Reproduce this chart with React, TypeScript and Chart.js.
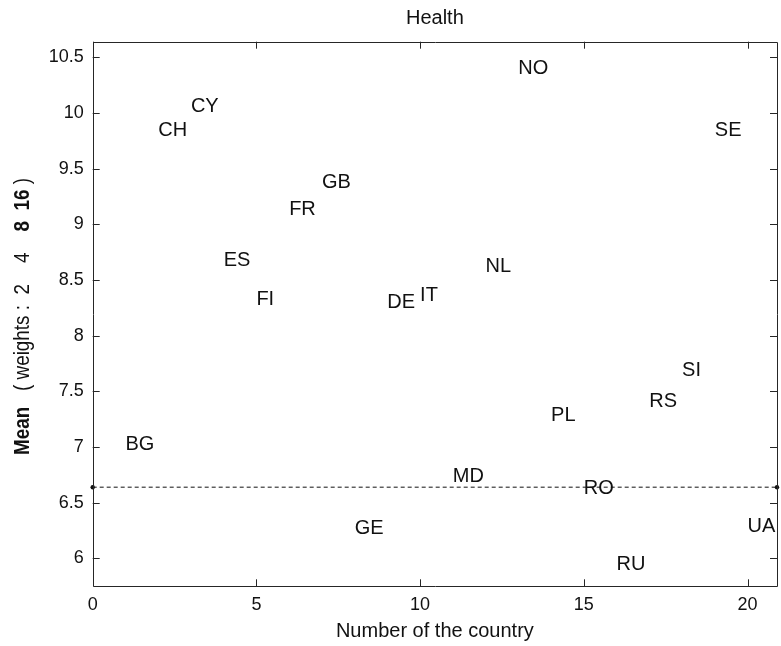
import { useEffect, useRef } from "react";
import { Chart, registerables } from "chart.js";

Chart.register(...registerables);

// ---- data ----
const COUNTRY_CODES = ["BG", "CH", "CY", "ES", "FI", "FR", "GB", "GE", "DE", "IT", "MD", "NL", "NO", "PL", "RO", "RU", "RS", "SI", "SE", "UA"];
const COUNTRY_NUMBERS = [1, 2, 3, 4, 5, 6, 7, 8, 9, 10, 11, 12, 13, 14, 15, 16, 17, 18, 19, 20];
const HEALTH_MEANS = [7.04, 9.86, 10.07, 8.69, 8.34, 9.15, 9.39, 6.28, 8.31, 8.38, 6.75, 8.64, 10.41, 7.3, 6.64, 5.96, 7.42, 7.7, 9.86, 6.3];
const REFERENCE_LEVEL = 6.64;
const X_MIN = 0;
const X_MAX = 20.9;
const Y_MIN = 5.75;
const Y_MAX = 10.64;
const X_STEP = 5;
const Y_STEP = 0.5;

const TITLE = "Health";
const X_TITLE = "Number of the country";
const Y_TITLE_PARTS: [string, boolean][] = [
  ["Mean", true],
  ["   ( weights :  2    4    ", false],
  ["8  16", true],
  [" )", false],
];

const FONT = "'Liberation Sans', Arial, Helvetica, sans-serif";
const INK = "#111111";

const W = 781;
const H = 646;

const overlay = {
  id: "matlabOverlay",
  afterDatasetsDraw(chart: any) {
    const ctx = chart.ctx as CanvasRenderingContext2D;
    const a = chart.chartArea;
    const xs = chart.scales.x;
    const ys = chart.scales.y;
    ctx.save();

    // country labels (left aligned, vertically centred on the value)
    const meta = chart.getDatasetMeta(0);
    ctx.fillStyle = INK;
    ctx.font = `20px ${FONT}`;
    ctx.textAlign = "left";
    ctx.textBaseline = "alphabetic";
    meta.data.forEach((pt: any, i: number) => {
      ctx.fillText(COUNTRY_CODES[i], pt.x, pt.y + 0.358 * 20);
    });

    // box
    ctx.strokeStyle = "#262626";
    ctx.lineWidth = 1;
    ctx.beginPath();
    ctx.rect(Math.round(a.left) + 0.5, Math.round(a.top) + 0.5, Math.round(a.right) - Math.round(a.left), Math.round(a.bottom) - Math.round(a.top));
    ctx.stroke();

    // inward ticks on all four sides
    const tl = 7;
    ctx.beginPath();
    xs.ticks.forEach((t: any) => {
      const px = Math.round(xs.getPixelForValue(t.value)) + 0.5;
      ctx.moveTo(px, a.bottom);
      ctx.lineTo(px, a.bottom - tl);
      ctx.moveTo(px, a.top);
      ctx.lineTo(px, a.top + tl);
    });
    ys.ticks.forEach((t: any) => {
      const py = Math.round(ys.getPixelForValue(t.value)) + 0.5;
      ctx.moveTo(a.left, py);
      ctx.lineTo(a.left + tl, py);
      ctx.moveTo(a.right, py);
      ctx.lineTo(a.right - tl, py);
    });
    ctx.stroke();

    // title
    const cx = (a.left + a.right) / 2;
    ctx.fillStyle = INK;
    ctx.font = `20px ${FONT}`;
    ctx.textAlign = "center";
    ctx.textBaseline = "middle";
    ctx.fillText(TITLE, cx, 18);

    // x title
    ctx.fillText(X_TITLE, cx, 631);

    // y title (rotated, mixed weight)
    ctx.save();
    ctx.translate(23, 316.5);
    ctx.rotate(-Math.PI / 2);
    const fonts = Y_TITLE_PARTS.map(([, b]) => `${b ? "bold " : ""}17px ${FONT}`);
    const widths = Y_TITLE_PARTS.map(([t], i) => {
      ctx.font = fonts[i];
      return ctx.measureText(t).width;
    });
    const total = widths.reduce((s, v) => s + v, 0);
    ctx.scale(277 / total, 1.3);
    ctx.textAlign = "left";
    ctx.textBaseline = "middle";
    let x0 = -total / 2;
    Y_TITLE_PARTS.forEach(([t], i) => {
      ctx.font = fonts[i];
      ctx.fillText(t, x0, 0);
      x0 += widths[i];
    });
    ctx.restore();

    ctx.restore();
  },
};

const fmt = (v: any) => `${Math.round(Number(v) * 10) / 10}`;

export default function App() {
  const ref = useRef<HTMLCanvasElement | null>(null);

  useEffect(() => {
    if (!ref.current) return;
    const chart = new Chart(ref.current, {
      type: "scatter",
      data: {
        datasets: [
          {
            label: "countries",
            data: COUNTRY_NUMBERS.map((n, i) => ({ x: n, y: HEALTH_MEANS[i] })),
            pointRadius: 0,
            pointHoverRadius: 0,
            showLine: false,
          },
          {
            type: "line",
            label: "reference",
            data: [
              { x: X_MIN, y: REFERENCE_LEVEL },
              { x: X_MAX, y: REFERENCE_LEVEL },
            ],
            borderColor: "#111",
            borderWidth: 1,
            borderDash: [4, 3],
            pointRadius: 2.2,
            pointBackgroundColor: "#111",
            pointBorderColor: "#111",
            pointBorderWidth: 0,
            clip: false,
          } as any,
        ],
      },
      options: {
        responsive: false,
        animation: false,
        devicePixelRatio: 1,
        layout: { padding: { left: 0, top: 41.7, right: 1.5, bottom: 0 } },
        plugins: {
          legend: { display: false },
          tooltip: { enabled: false },
          title: { display: false },
        },
        scales: {
          x: {
            type: "linear",
            min: X_MIN,
            max: X_MAX,
            grid: { display: false, drawTicks: false, tickLength: 0 },
            border: { display: false },
            ticks: {
              stepSize: X_STEP,
              includeBounds: false,
              color: INK,
              font: { family: FONT, size: 18 },
              padding: 8,
              maxRotation: 0,
              callback: fmt,
            },
            afterFit: (s: any) => {
              s.height = H - 586.3;
              s.paddingLeft = 0;
              s.paddingRight = 0;
            },
          },
          y: {
            type: "linear",
            min: Y_MIN,
            max: Y_MAX,
            grid: { display: false, drawTicks: false, tickLength: 0 },
            border: { display: false },
            ticks: {
              stepSize: Y_STEP,
              includeBounds: false,
              color: INK,
              font: { family: FONT, size: 18 },
              padding: 9,
              callback: fmt,
            },
            afterFit: (s: any) => {
              s.width = 92.7;
              s.paddingTop = 0;
              s.paddingBottom = 0;
            },
          },
        },
      },
      plugins: [overlay],
    });
    return () => chart.destroy();
  }, []);

  return (
    <div style={{ position: "fixed", left: 0, top: 0, width: W, height: H, background: "#fff" }}>
      <canvas ref={ref} width={W} height={H} style={{ display: "block", width: W, height: H }} />
    </div>
  );
}
